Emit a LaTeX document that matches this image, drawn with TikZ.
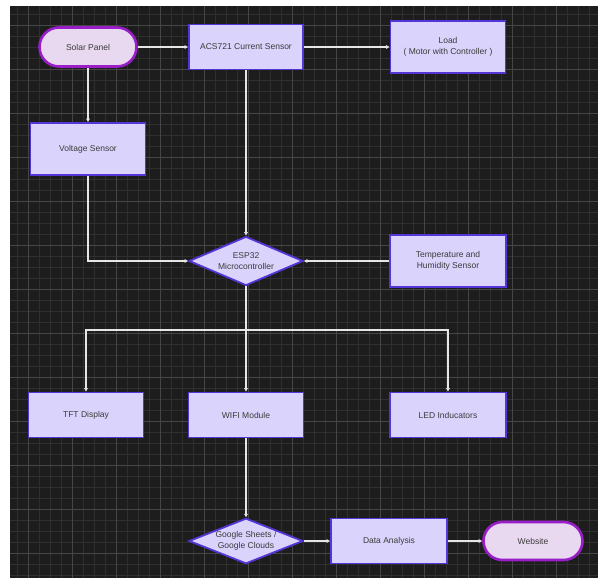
\documentclass[tikz,border=0pt]{standalone}
\usepackage{fontspec}
\setmainfont{Liberation Sans}
\usetikzlibrary{shapes.geometric,shapes.misc,arrows.meta}
\definecolor{bgdark}{HTML}{1D1D1D}
\definecolor{gridminor}{HTML}{2F2F2F}
\definecolor{gridmajor}{HTML}{464646}
\definecolor{boxfill}{HTML}{DAD4FC}
\definecolor{boxline}{HTML}{5535D6}
\definecolor{termfill}{HTML}{E8D8F0}
\definecolor{termline}{HTML}{9A1EC8}
\definecolor{txt}{HTML}{3A3A3A}
\definecolor{wire}{HTML}{E6E6E6}
\tikzset{
  x=1pt,y=-1pt,
  basetext/.style={text=txt,font=\fontsize{8.5}{11}\selectfont,align=center,inner sep=0pt},
  boxnode/.style={basetext,rectangle,fill=boxfill,draw=boxline,line width=1.8pt},
  termnode/.style={basetext,rounded rectangle,fill=termfill,draw=termline,line width=2.6pt},
  decnode/.style={basetext,diamond,aspect=2.3,fill=boxfill,draw=boxline,line width=1.8pt},
  wireline/.style={draw=wire,line width=1.3pt},
  arrowline/.style={wireline,-{Triangle[length=3.5pt,width=3.5pt]}}
}
\begin{document}
\begin{tikzpicture}
\useasboundingbox (0,0) rectangle (598,578);
\fill[white] (0,0) rectangle (598,578);
\fill[bgdark] (10,6) rectangle (598,578);
% grid
\foreach \j in {0,...,53} {
  \draw[gridminor,line width=0.6pt] ({17+11*\j},6) -- ({17+11*\j},578);
}
\foreach \j in {0,...,51} {
  \draw[gridminor,line width=0.6pt] (10,{14+11*\j}) -- (598,{14+11*\j});
}
\foreach \j in {0,...,12} {
  \draw[gridmajor,line width=0.8pt] ({28+44*\j},6) -- ({28+44*\j},578);
}
\foreach \j in {0,...,12} {
  \draw[gridmajor,line width=0.8pt] (10,{25+44*\j}) -- (598,{25+44*\j});
}
% nodes
\node[termnode,minimum width=97,minimum height=39] (solar) at (88,47) {Solar Panel};
\node[boxnode,minimum width=114,minimum height=45] (acs) at (246,47) {ACS721 Current Sensor};
\node[boxnode,minimum width=115,minimum height=52] (load) at (448,47) {Load\\( Motor with Controller )};
\node[boxnode,minimum width=115,minimum height=52] (volt) at (88,149) {Voltage Sensor};
\node[decnode,minimum width=114,minimum height=49] (esp) at (246,261) {ESP32\\Microcontroller};
\node[boxnode,minimum width=116,minimum height=52] (temp) at (448,261) {Temperature and\\Humidity Sensor};
\node[boxnode,minimum width=115,minimum height=45] (tft) at (86,415) {TFT Display};
\node[boxnode,minimum width=115,minimum height=45] (wifi) at (246,415) {WIFI Module};
\node[boxnode,minimum width=116,minimum height=45] (led) at (448,415) {LED Inducators};
\node[decnode,minimum width=114,minimum height=44] (google) at (246,541) {Google Sheets /\\Google Clouds};
\node[boxnode,minimum width=116,minimum height=45] (data) at (389,541) {Data Analysis};
\node[termnode,minimum width=99,minimum height=38] (web) at (533,541) {Website};
\coordinate (branch) at (246,330);
% connectors
\draw[arrowline] (solar.east) -- (acs.west);
\draw[arrowline] (acs.east) -- (load.west);
\draw[arrowline] (solar.south) -- (volt.north);
\draw[arrowline] (volt.south) |- (esp.west);
\draw[arrowline] (acs.south) -- (esp.north);
\draw[arrowline] (temp.west) -- (esp.east);
\draw[wireline] (esp.south) -- (branch);
\draw[arrowline] (branch) -| (tft.north);
\draw[arrowline] (branch) -- (wifi.north);
\draw[arrowline] (branch) -| (led.north);
\draw[arrowline] (wifi.south) -- (google.north);
\draw[arrowline] (google.east) -- (data.west);
\draw[arrowline] (data.east) -- (web.west);
\end{tikzpicture}
\end{document}
